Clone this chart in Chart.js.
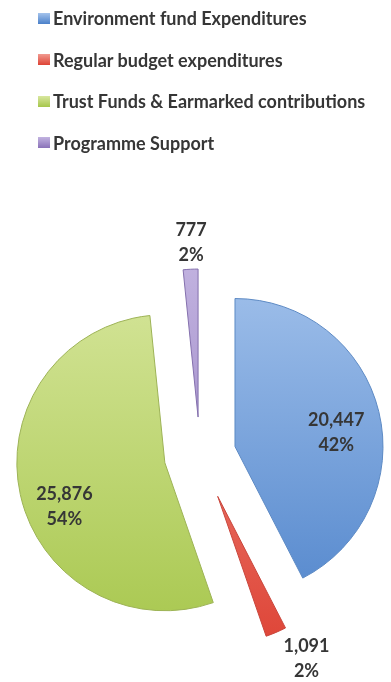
<!DOCTYPE html>
<html>
<head>
<meta charset="utf-8">
<title>Expenditures by source of funds</title>
<script src="https://cdn.jsdelivr.net/npm/chart.js@4/dist/chart.umd.min.js"></script>
<style>
  html, body { margin: 0; padding: 0; background: #ffffff; }
  #wrap { position: relative; width: 391px; height: 682px; overflow: hidden; }
  #pie { position: absolute; left: 0; top: 0; }
  #legend {
    position: absolute; left: 38px; top: 8px; margin: 0; padding: 0; list-style: none;
    font-family: Lato, "Open Sans", sans-serif; font-weight: 700; font-size: 18px;
    color: #363636; line-height: 20px;
  }
  #legend li { display: flex; align-items: center; height: 20px; margin-bottom: 21.5px; white-space: nowrap; }
  #legend .sw { width: 12px; height: 11px; margin-right: 3px; flex: none; }
</style>
</head>
<body>
<div id="wrap">
  <canvas id="pie" width="391" height="682"></canvas>
  <ul id="legend"></ul>
</div>
<script>
// Expenditure by source of funds (thousands of US$)
const categories = [
  'Environment fund Expenditures',
  'Regular budget expenditures',
  'Trust Funds & Earmarked contributions',
  'Programme Support'
];
const amounts = [20447, 1091, 25876, 777];

// Slice fills: light top tone and deeper bottom tone of each series colour
const fillTop = ['#a4c3ec', '#f19a90', '#d8e79f', '#c2b3e0'];
const fillBottom = ['#4a80c9', '#de4335', '#a6c64b', '#8a72b9'];
const edgeColors = ['#5d8ac4', '#c9463c', '#9db356', '#8470ad'];

const total = amounts.reduce((a, b) => a + b, 0);
const fmtNumber = v => v.toLocaleString('en-US');
const fmtPercent = v => Math.round(v / total * 100) + '%';

function sliceFill(c) {
  const i = c.dataIndex;
  const chart = c.chart;
  const area = chart.chartArea;
  if (!area || i === undefined) return fillBottom[i || 0];
  const cy = (area.top + area.bottom) / 2;
  const g = chart.ctx.createLinearGradient(0, cy - 200, 0, cy + 200);
  g.addColorStop(0, fillTop[i]);
  g.addColorStop(1, fillBottom[i]);
  return g;
}

// Pull every slice out from the centre along its own middle angle
const explodePlugin = {
  id: 'explode',
  afterDatasetsUpdate(chart, args, opts) {
    const meta = chart.getDatasetMeta(0);
    meta.data.forEach((arc, i) => {
      const d = opts.distances[i] || 0;
      const mid = (arc.startAngle + arc.endAngle) / 2;
      arc.x += Math.cos(mid) * d;
      arc.y += Math.sin(mid) * d;
    });
  }
};

// Value and share written on (or next to) each slice
const sliceLabelPlugin = {
  id: 'sliceLabels',
  afterDatasetsDraw(chart, args, opts) {
    const ctx = chart.ctx;
    const meta = chart.getDatasetMeta(0);
    const data = chart.data.datasets[0].data;
    ctx.save();
    ctx.font = opts.font;
    ctx.fillStyle = opts.color;
    ctx.textAlign = 'center';
    ctx.textBaseline = 'middle';
    meta.data.forEach((arc, i) => {
      const p = opts.placement[i];
      const a = (arc.startAngle + arc.endAngle) / 2 + p.turn * Math.PI / 180;
      const r = arc.outerRadius * p.dist;
      const x = arc.x + Math.cos(a) * r;
      const y = arc.y + Math.sin(a) * r;
      ctx.fillText(fmtNumber(data[i]), x, y - opts.lineGap / 2);
      ctx.fillText(fmtPercent(data[i]), x, y + opts.lineGap / 2);
    });
    ctx.restore();
  }
};

const chart = new Chart(document.getElementById('pie'), {
  type: 'pie',
  data: {
    labels: categories,
    datasets: [{
      data: amounts,
      backgroundColor: sliceFill,
      borderColor: edgeColors,
      borderWidth: 1,
      radius: 148
    }]
  },
  options: {
    responsive: false,
    devicePixelRatio: 1,
    animation: false,
    events: [],
    layout: { padding: { top: 228, left: 9, right: 0, bottom: 0 } },
    plugins: {
      legend: { display: false },
      tooltip: { enabled: false },
      explode: { distances: [36, 45, 36, 38] },
      sliceLabels: {
        font: '700 18px Lato, "Open Sans", sans-serif',
        color: '#363636',
        lineGap: 25,
        placement: [
          { dist: 0.69, turn: 6 },
          { dist: 1.25, turn: -5.5 },
          { dist: 0.74, turn: -11 },
          { dist: 1.18, turn: 0.6 }
        ]
      }
    }
  },
  plugins: [explodePlugin, sliceLabelPlugin]
});

// Legend list built from the chart's own labels
const legendEl = document.getElementById('legend');
chart.data.labels.forEach((label, i) => {
  const li = document.createElement('li');
  const sw = document.createElement('span');
  sw.className = 'sw';
  sw.style.background = 'linear-gradient(' + fillTop[i] + ', ' + fillBottom[i] + ')';
  const tx = document.createElement('span');
  tx.textContent = label;
  li.appendChild(sw);
  li.appendChild(tx);
  legendEl.appendChild(li);
});
</script>
</body>
</html>
